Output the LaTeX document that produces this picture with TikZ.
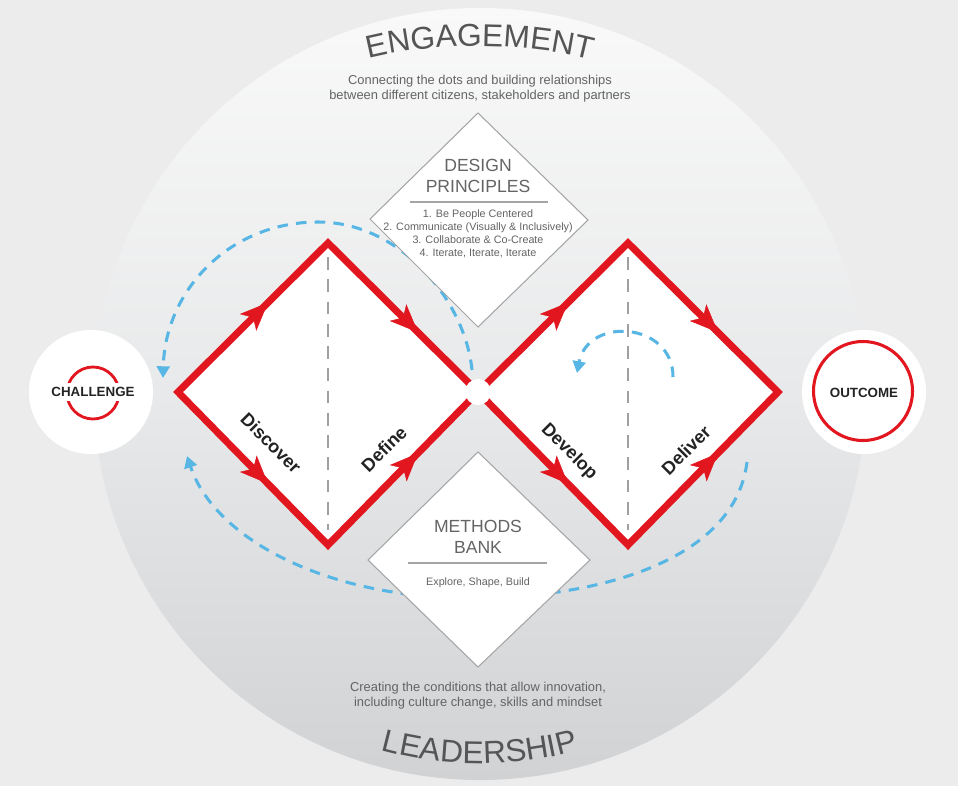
\documentclass[tikz,border=0pt]{standalone}
\usepackage{fontspec}
\setmainfont{Liberation Sans}
\usetikzlibrary{arrows.meta,decorations.markings,decorations.text}
\definecolor{bgc}{RGB}{236,236,237}
\definecolor{ctop}{RGB}{249,249,249}
\definecolor{cmid}{RGB}{232,233,234}
\definecolor{cbot}{RGB}{208,210,212}
\definecolor{dred}{RGB}{226,22,30}
\definecolor{dblue}{RGB}{88,182,228}
\definecolor{tgrey}{RGB}{85,85,85}
\definecolor{sgrey}{RGB}{100,100,100}
\definecolor{lgrey}{RGB}{165,165,165}
\definecolor{dashgrey}{RGB}{160,160,160}
\definecolor{dtext}{RGB}{35,35,35}
\begin{document}
\begin{tikzpicture}[x=0.03cm,y=-0.03cm,
  redline/.style={draw=dred,line width=6pt,line join=miter},
  redtip/.style={postaction={decorate},decoration={markings,mark=at position #1 with {\arrow{Stealth[length=24pt,width=20pt,inset=6pt,color=dred]}}}},
  greydash/.style={draw=dashgrey,line width=2pt,dash pattern=on 11pt off 8pt},
  bluedash/.style={draw=dblue,line width=2.6pt,dash pattern=on 9pt off 7pt,-{Triangle[length=10pt,width=11pt]}},
  boxdiamond/.style={fill=white,draw=lgrey,line width=0.9pt},
  subtext/.style={text=sgrey,font=\fontsize{11}{13}\selectfont,align=center},
  titletext/.style={text=sgrey,font=\fontsize{15}{18}\selectfont,align=center},
  listtext/.style={text=sgrey,font=\fontsize{9.2}{11.1}\selectfont,align=center},
  phaselabel/.style={text=dtext,font=\bfseries\fontsize{15.5}{17}\selectfont},
  endlabel/.style={text=dtext,font=\bfseries\fontsize{11.4}{13}\selectfont,fill=white,inner xsep=1pt,inner ysep=4pt},
  whitedisc/.style={circle,fill=white,inner sep=0pt,minimum size=3.72cm},
]
\useasboundingbox (0,0) rectangle (958,786);
\fill[bgc] (0,0) rectangle (958,786);
% big circle
\node[circle,inner sep=0pt,minimum size=23.16cm,top color=ctop,bottom color=cbot,middle color=cmid] (bigc) at (480,394) {};

% challenge / outcome discs
\node[whitedisc] (chdisc) at (91,392) {};
\node[whitedisc] (oudisc) at (864,392) {};
\node[circle,draw=dred,line width=2.4pt,inner sep=0pt,minimum size=1.56cm] (chring) at (93,393) {};
\node[circle,draw=dred,line width=2.6pt,inner sep=0pt,minimum size=2.97cm] (ouring) at (863,391) {};
\node[endlabel] (chal) at (93,392) {CHALLENGE};
\node[endlabel] (outc) at (864,393) {OUTCOME};

% coordinates of the double diamond
\coordinate (L1) at (178,392);
\coordinate (T1) at (328,243);
\coordinate (B1) at (328,545);
\coordinate (M) at (478,392);
\coordinate (T2) at (628,243);
\coordinate (B2) at (628,545);
\coordinate (R2) at (778,392);

% blue dashed loops (behind)
\coordinate (a1s) at (472,370);
\coordinate (a1m) at (318,222);
\coordinate (a1e) at (163,378);
\draw[bluedash] (a1s) .. controls (465,300) and (400,222) .. (a1m) .. controls (230,222) and (165,290) .. (a1e);
\coordinate (a2s) at (747,462);
\coordinate (a2m) at (478,598);
\coordinate (a2e) at (187,456);
\draw[bluedash] (a2s) .. controls (735,560) and (600,597) .. (a2m) .. controls (330,600) and (215,540) .. (a2e);

% diamond interiors
\fill[white] (L1) -- (T1) -- (M) -- (B1) -- cycle;
\fill[white] (M) -- (T2) -- (R2) -- (B2) -- cycle;

% grey dashed dividers
\coordinate (d1t) at (328,257);
\coordinate (d1b) at (328,530);
\coordinate (d2t) at (628,257);
\coordinate (d2b) at (628,530);
\draw[greydash] (d1t) -- (d1b);
\draw[greydash] (d2t) -- (d2b);

% small loop inside right diamond
\coordinate (a3s) at (673,377);
\coordinate (a3e) at (577,373);
\draw[bluedash] (a3s) .. controls (673,322) and (588,316) .. (a3e);

% red outlines
\draw[redline] (L1) -- (T1) -- (M) -- (B1) -- cycle;
\draw[redline] (M) -- (T2) -- (R2) -- (B2) -- cycle;
\path[redtip=0.6] (L1) -- (T1);
\path[redtip=0.6] (T1) -- (M);
\path[redtip=0.6] (L1) -- (B1);
\path[redtip=0.6] (B1) -- (M);
\path[redtip=0.6] (M) -- (T2);
\path[redtip=0.6] (T2) -- (R2);
\path[redtip=0.6] (M) -- (B2);
\path[redtip=0.6] (B2) -- (R2);
\node[circle,fill=white,inner sep=0pt,minimum size=0.78cm] (gap) at (M) {};

% phase labels
\node[phaselabel,rotate=-45] (disc) at (271,443) {Discover};
\node[phaselabel,rotate=45] (defi) at (384,449) {Define};
\node[phaselabel,rotate=-45] (deve) at (569,452) {Develop};
\node[phaselabel,rotate=45] (deli) at (686,450) {Deliver};

% design principles diamond
\coordinate (dpT) at (478,113);
\coordinate (dpR) at (588,220);
\coordinate (dpB) at (478,327);
\coordinate (dpL) at (370,219);
\draw[boxdiamond] (dpT) -- (dpR) -- (dpB) -- (dpL) -- cycle;
\node[titletext] (dptitle) at (478,176) {DESIGN\\PRINCIPLES};
\coordinate (dpl1) at (410,202);
\coordinate (dpl2) at (548,202);
\draw[lgrey,line width=1pt] (dpl1) -- (dpl2);
\node[listtext] (dplist) at (478,234) {1. Be People Centered\\2. Communicate (Visually \& Inclusively)\\3. Collaborate \& Co-Create\\4. Iterate, Iterate, Iterate};

% methods bank diamond
\coordinate (mbT) at (478,452);
\coordinate (mbR) at (590,560);
\coordinate (mbB) at (478,667);
\coordinate (mbL) at (368,560);
\draw[boxdiamond] (mbT) -- (mbR) -- (mbB) -- (mbL) -- cycle;
\node[titletext] (mbtitle) at (478,537) {METHODS\\BANK};
\coordinate (mbl1) at (408,563);
\coordinate (mbl2) at (547,563);
\draw[lgrey,line width=1pt] (mbl1) -- (mbl2);
\node[listtext] (mblist) at (478,583) {Explore, Shape, Build};

% subtitles
\node[subtext] (engsub) at (480,89) {Connecting the dots and building relationships\\between different citizens, stakeholders and partners};
\node[subtext] (leasub) at (478,696) {Creating the conditions that allow innovation,\\including culture change, skills and mindset};

% curved headings
\path[decorate,decoration={text along path,text align=center,text color=tgrey,text={|\fontsize{27}{27}\selectfont|ENGAGEMENT}}] (360,61) .. controls (430,41) and (530,41) .. (600,62);
\path[decorate,decoration={text along path,text align=center,text color=tgrey,text={|\fontsize{27}{27}\selectfont|LEADERSHIP}}] (370,747) .. controls (440,769) and (520,769) .. (590,747);
\end{tikzpicture}
\end{document}
